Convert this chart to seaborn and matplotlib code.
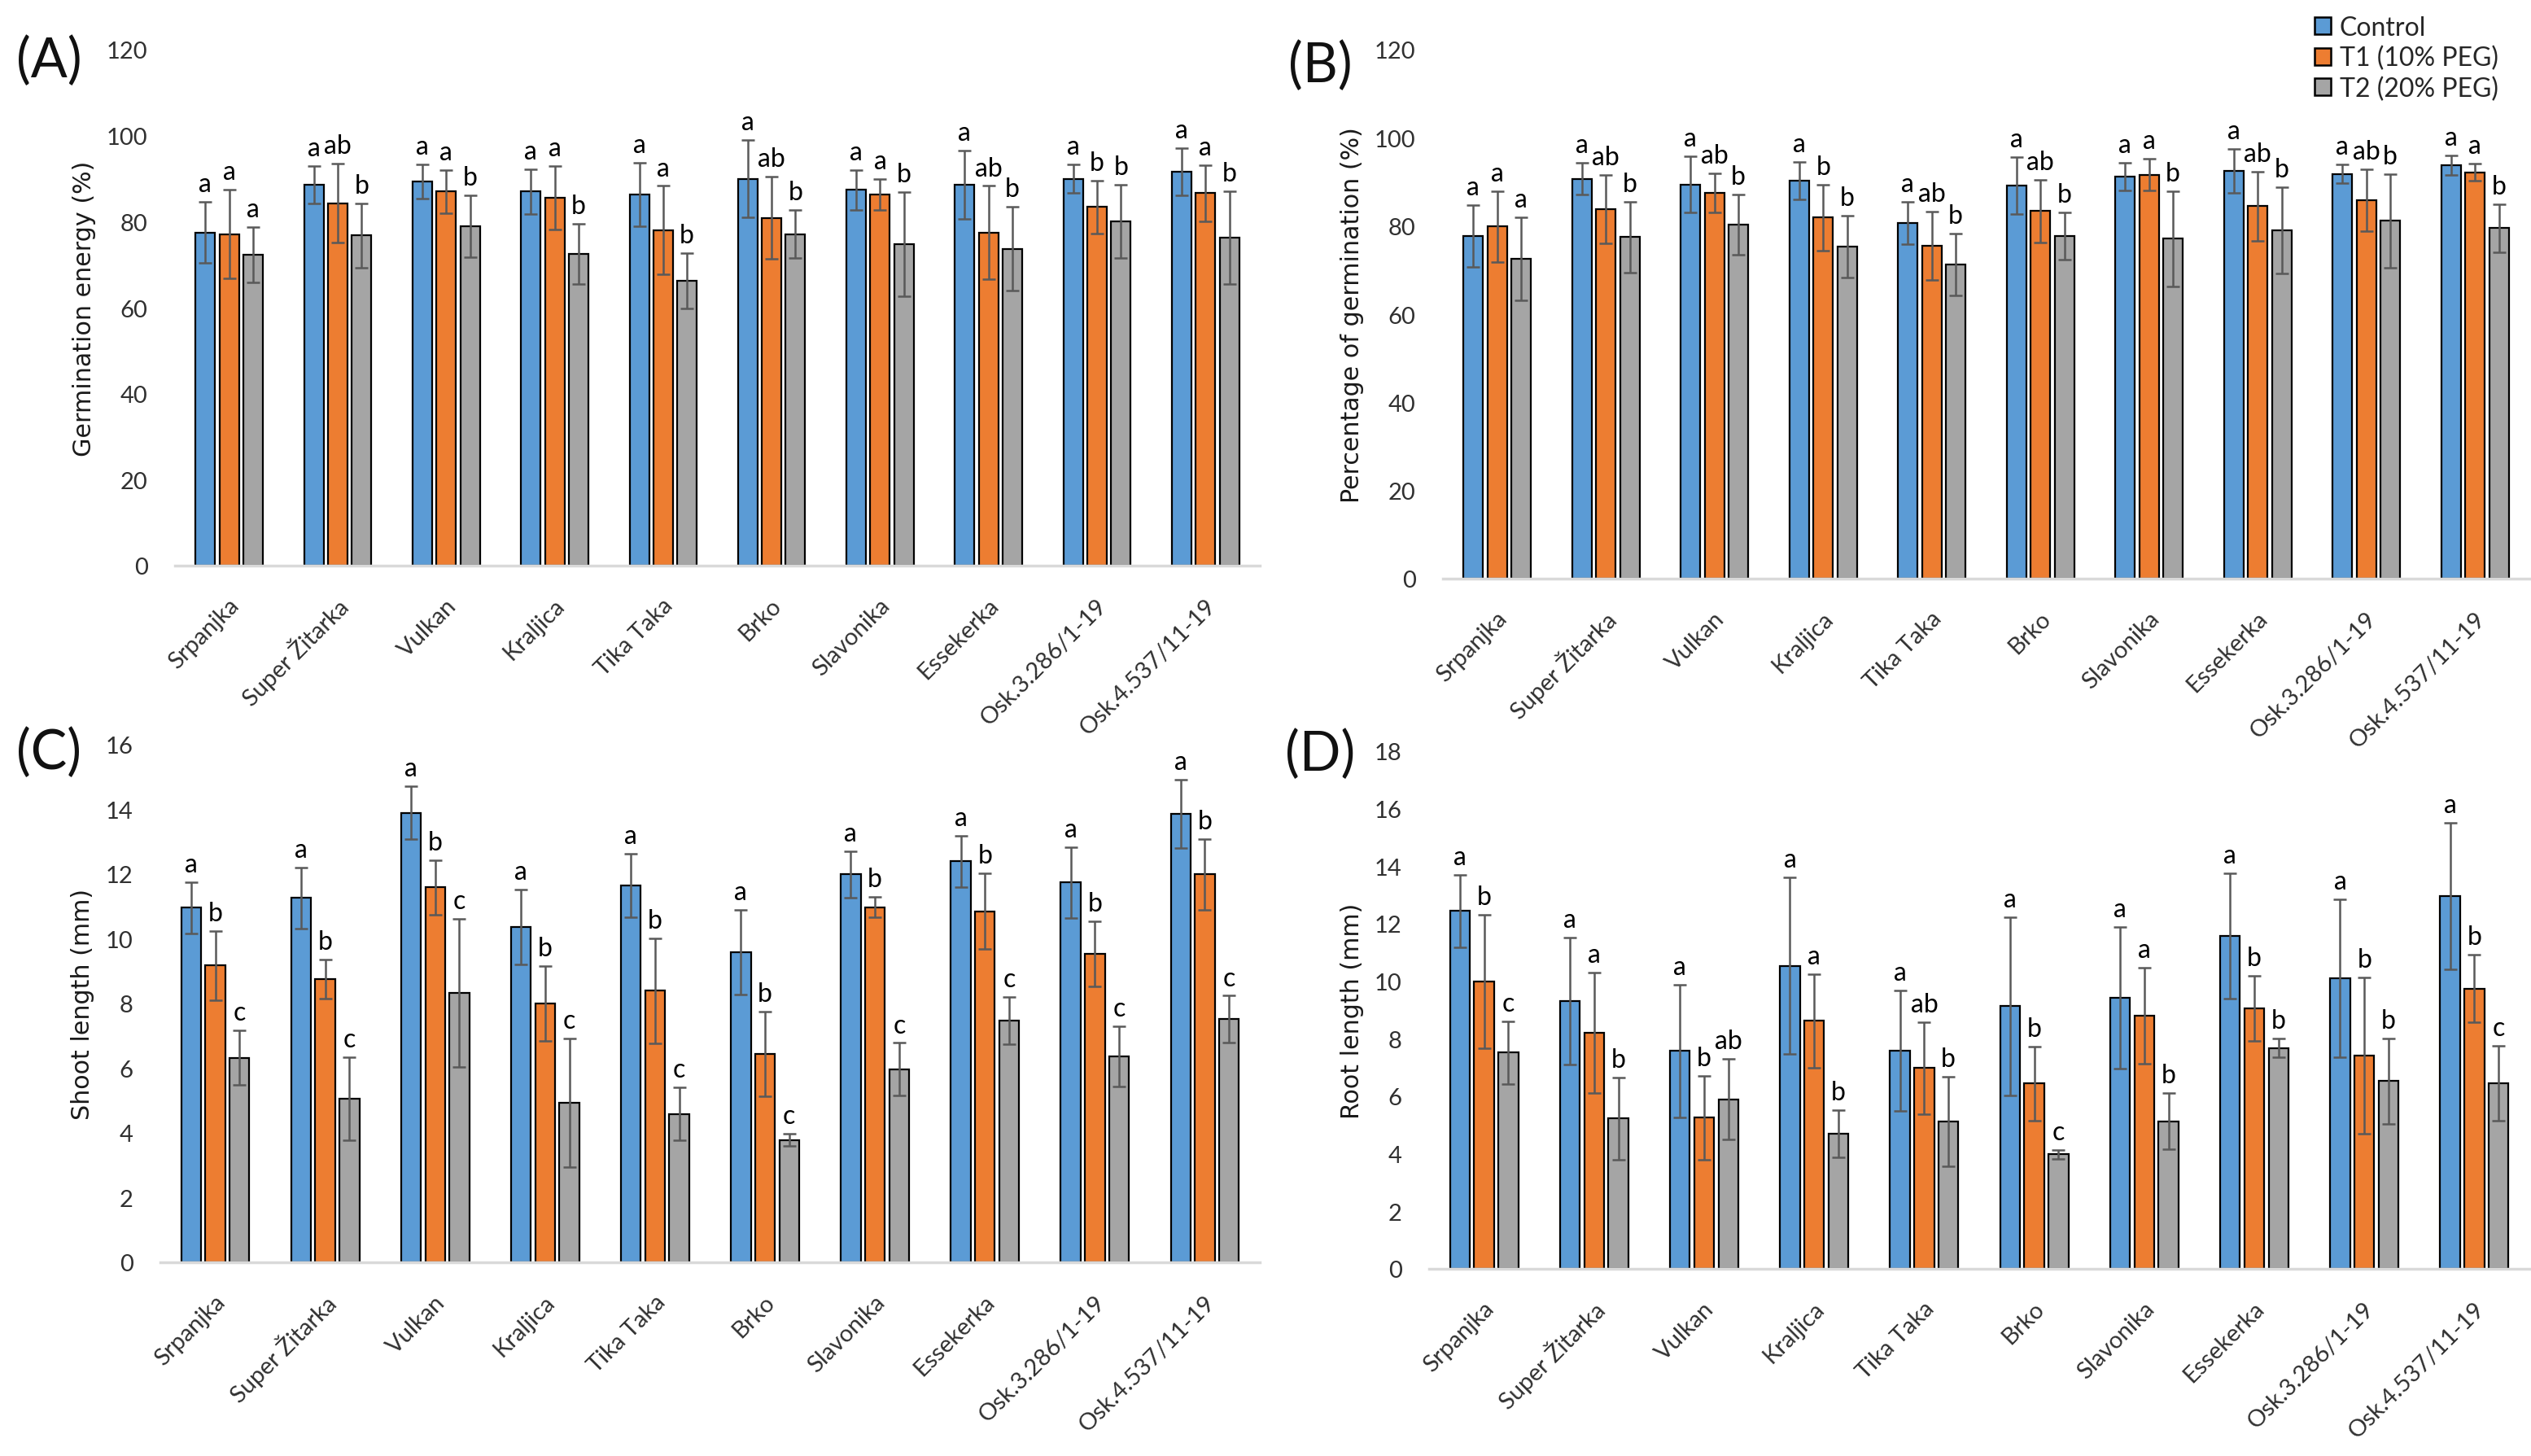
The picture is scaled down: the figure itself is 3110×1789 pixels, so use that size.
import matplotlib
matplotlib.use("Agg")
import matplotlib.pyplot as plt
import matplotlib.transforms as mtransforms
from matplotlib.patches import Patch
import numpy as np
import pandas as pd
import seaborn as sns

cultivars = ["Srpanjka", "Super Žitarka", "Vulkan", "Kraljica", "Tika Taka", "Brko",
             "Slavonika", "Essekerka", "Osk.3.286/1-19", "Osk.4.537/11-19"]
treatments = ["Control", "T1 (10% PEG)", "T2 (20% PEG)"]
colors = ["#5B9BD5", "#ED7D31", "#A5A5A5"]

# (A) germination energy (%)
energy_control = [77.5, 88.6, 89.3, 87.0, 86.3, 90.0, 87.4, 88.6, 90.0, 91.6]
energy_t1 = [77.1, 84.3, 87.0, 85.6, 78.0, 80.9, 86.3, 77.5, 83.4, 86.6]
energy_t2 = [72.3, 76.8, 79.0, 72.5, 66.2, 77.1, 74.8, 73.7, 80.1, 76.2]
energy_sd_control = [7.1, 4.3, 4.0, 5.2, 7.4, 9.0, 4.6, 7.9, 3.3, 5.5]
energy_sd_t1 = [10.3, 9.2, 5.0, 7.4, 10.3, 9.6, 3.6, 10.8, 6.1, 6.6]
energy_sd_t2 = [6.4, 7.5, 7.2, 7.0, 6.4, 5.6, 12.1, 9.8, 8.5, 10.8]
energy_let_control = ["a"] * 10
energy_let_t1 = ["a", "ab", "a", "a", "a", "ab", "a", "ab", "b", "a"]
energy_let_t2 = ["a", "b", "b", "b", "b", "b", "b", "b", "b", "b"]

# (B) percentage of germination (%)
germ_control = [77.7, 90.7, 89.4, 90.3, 80.7, 89.2, 91.2, 92.5, 91.8, 93.8]
germ_t1 = [79.9, 83.8, 87.5, 81.9, 75.5, 83.4, 91.6, 84.5, 85.9, 92.2]
germ_t2 = [72.5, 77.5, 80.3, 75.3, 71.2, 77.7, 77.1, 79.0, 81.2, 79.5]
germ_sd_control = [7.0, 3.6, 6.4, 4.2, 4.8, 6.4, 3.2, 5.0, 2.1, 2.2]
germ_sd_t1 = [8.0, 7.8, 4.4, 7.5, 7.7, 7.1, 3.6, 7.9, 7.0, 2.0]
germ_sd_t2 = [9.4, 8.0, 6.8, 7.0, 7.0, 5.4, 10.8, 9.8, 10.6, 5.5]
germ_let_control = ["a"] * 10
germ_let_t1 = ["a", "ab", "ab", "b", "ab", "ab", "a", "ab", "ab", "a"]
germ_let_t2 = ["a", "b", "b", "b", "b", "b", "b", "b", "b", "b"]

# (C) shoot length (mm)
shoot_control = [10.96, 11.26, 13.89, 10.37, 11.65, 9.59, 11.99, 12.39, 11.74, 13.87]
shoot_t1 = [9.17, 8.75, 11.59, 8.00, 8.39, 6.45, 10.98, 10.85, 9.54, 11.99]
shoot_t2 = [6.32, 5.06, 8.32, 4.93, 4.59, 3.78, 5.97, 7.47, 6.37, 7.51]
shoot_sd_control = [0.79, 0.94, 0.82, 1.16, 0.99, 1.31, 0.71, 0.79, 1.10, 1.06]
shoot_sd_t1 = [1.06, 0.60, 0.85, 1.16, 1.63, 1.31, 0.32, 1.17, 1.00, 1.10]
shoot_sd_t2 = [0.84, 1.28, 2.29, 1.99, 0.82, 0.19, 0.81, 0.73, 0.93, 0.73]
shoot_let_control = ["a"] * 10
shoot_let_t1 = ["b"] * 10
shoot_let_t2 = ["c"] * 10

# (D) root length (mm)
root_control = [12.44, 9.31, 7.58, 10.54, 7.58, 9.14, 9.43, 11.57, 10.10, 12.97]
root_t1 = [9.99, 8.20, 5.26, 8.62, 6.98, 6.44, 8.79, 9.05, 7.42, 9.75]
root_t2 = [7.52, 5.23, 5.90, 4.70, 5.13, 3.98, 5.13, 7.68, 6.53, 6.45]
root_sd_control = [1.26, 2.20, 2.31, 3.07, 2.10, 3.10, 2.47, 2.18, 2.75, 2.55]
root_sd_t1 = [2.33, 2.09, 1.46, 1.63, 1.60, 1.28, 1.67, 1.13, 2.72, 1.18]
root_sd_t2 = [1.09, 1.43, 1.41, 0.83, 1.56, 0.15, 0.98, 0.32, 1.49, 1.30]
root_let_control = ["a"] * 10
root_let_t1 = ["b", "a", "b", "a", "ab", "b", "a", "b", "b", "b"]
root_let_t2 = ["c", "b", "ab", "b", "b", "c", "b", "b", "b", "c"]

sns.set_theme(style="white")
plt.rcParams["font.family"] = ["Lato", "DejaVu Sans"]

W, H = 3110, 1790
fig = plt.figure(figsize=(W / 100, H / 100), dpi=100)


def px_box(left, right, top, bottom):
    return [left / W, 1 - bottom / H, (right - left) / W, (bottom - top) / H]


def draw_panel(ax, means, sds, letters, ylabel, ymax, step, label_x, edges):
    df = pd.DataFrame({
        "cultivar": cultivars * 3,
        "treatment": np.repeat(treatments, len(cultivars)),
        "value": np.concatenate(means),
    })
    sns.barplot(data=df, x="cultivar", y="value", hue="treatment", order=cultivars,
                hue_order=treatments, palette=colors, saturation=1, width=0.66, gap=0.18,
                errorbar=None, edgecolor="black", linewidth=1.6, legend=False, ax=ax)

    # error bars + significance letters on top of each bar
    for cont, sd, let in zip(ax.containers, sds, letters):
        xs = [p.get_x() + p.get_width() / 2 for p in cont]
        hs = [p.get_height() for p in cont]
        ax.errorbar(xs, hs, yerr=sd, fmt="none", ecolor="#595959", elinewidth=1.8,
                    capsize=6, capthick=1.8, zorder=5)
        for x, h, s, l in zip(xs, hs, sd, let):
            ax.annotate(l, (x, h + s), xytext=(0, 5), textcoords="offset points",
                        ha="center", va="bottom", fontsize=23, color="black")

    ax.set_xlim(-0.5, len(cultivars) - 0.5)
    ax.set_ylim(0, ymax)
    ax.set_yticks(np.arange(0, ymax + step / 2, step))
    ax.set_xlabel("")
    ax.set_ylabel(ylabel, fontsize=21.7, family=["DejaVu Sans"], color="#1a1a1a")
    left, right = edges
    ax.yaxis.set_label_coords((label_x - left) / (right - left), 0.5)

    sns.despine(ax=ax, left=True)
    ax.spines["bottom"].set_color("#D9D9D9")
    ax.spines["bottom"].set_linewidth(2.5)
    ax.tick_params(axis="both", length=0, labelsize=21, labelcolor="#303030")
    ax.tick_params(axis="y", pad=24)
    ax.tick_params(axis="x", pad=32)
    shift = mtransforms.ScaledTranslation(8 / 100, 0, fig.dpi_scale_trans)
    for lab in ax.get_xticklabels():
        lab.set_rotation(45)
        lab.set_ha("right")
        lab.set_va("center")
        lab.set_rotation_mode("anchor")
        lab.set_transform(lab.get_transform() + shift)


panels = [
    ("(A)", (60, 76), (215, 1548, 62, 696), 118,
     [energy_control, energy_t1, energy_t2],
     [energy_sd_control, energy_sd_t1, energy_sd_t2],
     [energy_let_control, energy_let_t1, energy_let_t2],
     "Germination energy (%)", 120, 20),
    ("(B)", (1622, 82), (1773, 3108, 62, 712), 1676,
     [germ_control, germ_t1, germ_t2],
     [germ_sd_control, germ_sd_t1, germ_sd_t2],
     [germ_let_control, germ_let_t1, germ_let_t2],
     "Percentage of germination (%)", 120, 20),
    ("(C)", (60, 926), (197, 1548, 916, 1552), 116,
     [shoot_control, shoot_t1, shoot_t2],
     [shoot_sd_control, shoot_sd_t1, shoot_sd_t2],
     [shoot_let_control, shoot_let_t1, shoot_let_t2],
     "Shoot length (mm)", 16, 2),
    ("(D)", (1622, 928), (1756, 3108, 924, 1560), 1676,
     [root_control, root_t1, root_t2],
     [root_sd_control, root_sd_t1, root_sd_t2],
     [root_let_control, root_let_t1, root_let_t2],
     "Root length (mm)", 18, 2),
]

for tag, (tx, ty), (l, r, t, b), lab_x, means, sds, lets, ylabel, ymax, step in panels:
    ax = fig.add_axes(px_box(l, r, t, b))
    draw_panel(ax, means, sds, lets, ylabel, ymax, step, lab_x, (l, r))
    fig.text(tx / W, 1 - ty / H, tag, ha="center", va="center", fontsize=48, color="#111111")
    if tag == "(B)":
        handles = [Patch(facecolor=c, edgecolor="black", linewidth=1.8, label=t)
                   for c, t in zip(colors, treatments)]
        ax.legend(handles=handles, loc="upper left", bbox_to_anchor=(2844 / W, 1 - 20 / H),
                  bbox_transform=fig.transFigure, frameon=False, fontsize=23,
                  handlelength=0.62, handleheight=0.62, handletextpad=0.35,
                  labelspacing=0.22, borderaxespad=0, borderpad=0)

fig.savefig("out.png", dpi=100)
